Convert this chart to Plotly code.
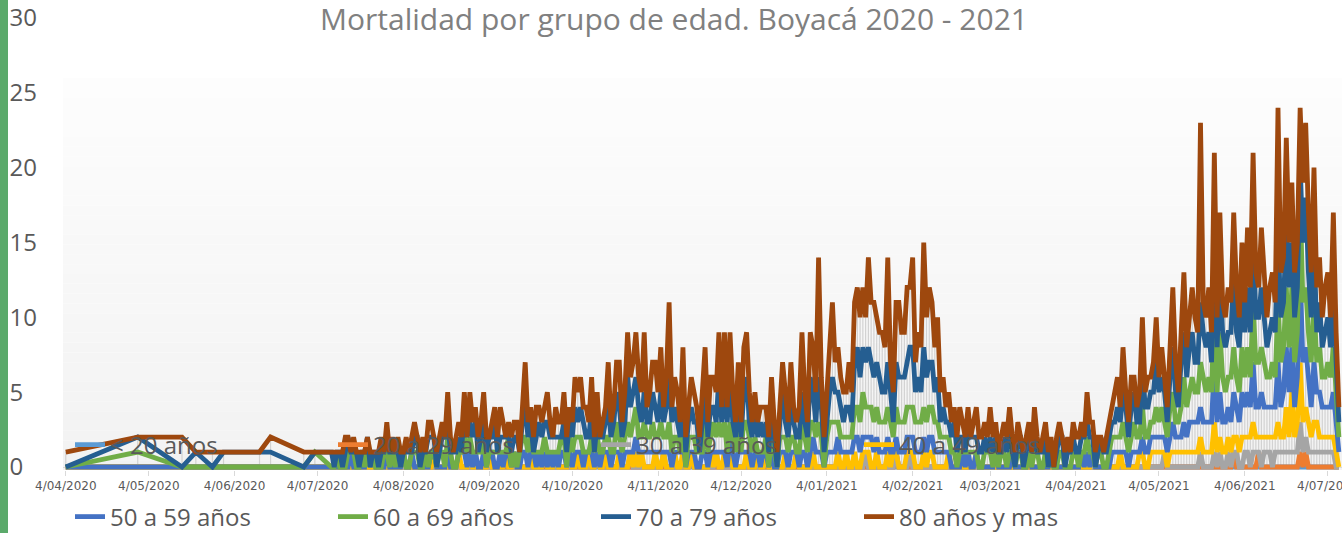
import numpy as np
import pandas as pd
import plotly.graph_objects as go

# ---------------- DATA ----------------
# dates with deaths before the daily series starts, then one value per day
early_dates = ["2020-04-04", "2020-04-30", "2020-05-16", "2020-05-21", "2020-05-27",
               "2020-05-31", "2020-06-13", "2020-06-17", "2020-06-29", "2020-07-03"]
daily_first, daily_last = "2020-07-09", "2021-07-08"
dates = list(pd.to_datetime(early_dates)) + list(pd.date_range(daily_first, daily_last, freq="D"))

title_text = "Mortalidad por grupo de edad. Boyacá 2020 - 2021"
series_names = ["< 20 años", "20 a 29 años", "30 a 39 años", "40 a 49 años",
                "50 a 59 años", "60 a 69 años", "70 a 79 años", "80 años y mas"]
y_tick_values = [0, 5, 10, 15, 20, 25, 30]
y_tick_labels = ["0\u2007", "5\u2007", "10", "15", "20", "25", "30"]

edad_80_mas = [
    1,0,2,0,1,0,0,1,1,0,
    0,1,0,0,1,1,0,0,1,0,1,0,0,0,1,0,0,1,1,0,1,0,1,
    0,1,1,0,1,0,1,1,0,1,1,0,1,1,0,1,1,1,0,2,1,0,1,1,1,1,0,2,1,1,1,
    1,2,1,0,1,1,1,2,1,0,1,1,1,1,0,1,3,1,1,1,2,1,1,1,2,1,0,2,1,1,
    2,1,1,1,2,2,2,1,2,1,2,1,2,0,1,1,3,1,1,2,3,1,2,3,2,2,3,2,2,4,1,
    2,2,3,2,3,1,2,5,1,2,2,1,3,1,1,2,2,1,1,2,3,1,2,2,2,3,1,4,1,3,
    2,1,2,1,3,3,2,1,1,1,1,2,1,1,2,1,1,1,2,2,1,3,1,1,2,4,2,1,3,3,2,
    8,2,1,2,3,5,2,3,2,2,1,3,2,4,4,4,4,3,6,4,5,3,3,4,3,7,2,2,4,5,3,
    3,5,4,6,2,3,3,7,4,5,4,3,4,2,2,1,2,1,1,1,2,1,1,1,0,1,2,1,
    1,1,1,2,1,1,0,1,1,1,1,1,1,1,0,1,1,1,0,2,1,0,1,1,1,1,0,1,1,0,1,
    1,0,1,1,1,1,0,2,1,1,1,1,0,0,1,1,1,2,2,1,3,1,1,2,1,1,2,3,1,2,
    1,2,3,1,2,1,1,2,4,2,1,2,4,2,2,3,3,2,12,2,2,3,2,5,2,4,2,2,3,2,4,
    3,2,3,2,4,3,5,3,2,4,3,2,3,3,2,8,3,3,6,3,4,3,3,4,4,5,4,3,5,3,
    3,2,3,3,2,5,2,1,
]
edad_70_79 = [
    0,1,0,1,0,1,1,1,0,0,
    1,0,0,1,0,1,1,0,0,1,0,0,1,1,0,0,1,0,1,0,1,1,0,
    1,0,0,0,1,1,0,1,1,0,1,0,2,1,1,0,0,1,2,1,0,1,1,1,0,2,1,1,1,2,0,
    1,1,1,1,1,2,0,1,1,1,0,1,1,2,0,1,2,1,1,0,1,2,1,1,2,1,1,1,1,0,
    1,1,1,1,2,1,2,2,1,1,2,0,1,1,1,1,2,1,2,2,2,1,1,3,2,2,2,2,1,2,1,
    1,2,2,1,2,1,2,3,2,2,1,1,2,1,1,2,1,2,0,2,2,1,2,1,1,3,1,2,2,3,
    1,1,2,1,2,3,1,1,2,1,2,1,1,1,2,1,0,1,3,1,1,2,1,1,1,2,1,1,3,2,1,
    3,2,1,1,2,3,2,2,2,1,2,2,1,3,4,3,3,3,4,3,3,3,3,2,2,3,2,1,3,3,3,
    3,3,4,4,2,3,2,4,3,3,3,2,3,1,2,1,1,1,2,1,1,1,0,2,1,1,1,1,
    1,1,0,1,1,1,1,0,1,1,2,0,0,1,1,0,1,1,1,1,0,1,1,1,0,0,0,1,1,1,0,
    1,1,1,0,1,1,1,1,1,1,0,0,1,1,1,1,1,1,2,1,2,2,1,2,2,1,1,3,2,2,
    2,2,3,2,2,2,1,2,3,2,1,3,3,2,3,3,2,2,4,3,3,3,2,5,3,4,3,3,3,3,5,
    3,3,4,3,4,3,5,3,3,4,3,2,3,3,3,5,3,3,4,4,3,3,3,2,4,6,4,3,4,2,
    3,2,3,3,2,4,2,1,
]
edad_60_69 = [
    0,1,0,0,0,0,0,0,0,1,
    0,0,1,0,0,0,1,0,1,0,0,1,0,0,0,0,0,0,0,1,0,0,1,
    0,1,0,0,0,0,0,1,1,0,0,1,0,0,0,0,1,1,0,1,1,0,0,0,0,1,1,1,1,0,1,
    1,1,0,0,0,1,1,0,1,0,1,0,0,0,1,1,1,1,1,0,1,0,1,1,1,0,1,0,1,1,
    1,0,1,1,1,1,1,1,0,0,1,1,1,1,0,1,1,1,0,2,1,1,1,2,1,2,2,1,1,2,1,
    1,2,1,1,2,1,1,2,1,1,1,0,1,0,1,1,1,1,1,0,2,1,1,2,1,2,1,2,1,1,
    1,1,2,0,2,2,1,1,1,0,1,0,1,0,1,1,0,1,1,1,1,1,1,0,1,2,1,1,2,1,1,
    2,1,0,1,2,2,2,1,1,1,1,1,1,2,2,2,3,2,2,2,2,2,2,2,2,2,2,1,2,2,2,
    2,2,2,2,2,2,2,2,2,2,2,2,2,1,1,1,1,1,1,0,1,0,1,0,1,1,0,0,
    0,1,1,1,0,0,0,1,1,0,1,0,0,1,1,0,0,0,0,1,1,0,0,1,0,0,0,0,1,1,0,
    0,0,1,1,0,0,1,1,1,0,0,1,1,0,0,1,1,1,1,1,2,1,1,1,2,1,1,2,1,1,
    1,1,2,1,2,1,1,2,2,1,1,2,3,2,2,3,2,2,3,3,2,3,2,4,2,4,3,2,2,3,3,
    2,2,3,2,3,2,4,3,3,3,3,2,2,3,2,4,3,3,4,3,4,3,3,5,4,4,3,3,4,2,
    3,2,2,3,2,3,2,1,
]
edad_50_59 = [
    0,0,0,0,0,0,0,0,0,0,
    0,0,0,0,0,0,0,1,0,0,0,0,0,1,0,1,0,0,0,0,1,0,0,
    0,0,0,0,0,0,1,0,0,0,0,0,0,1,0,0,0,0,0,1,0,0,0,0,1,1,0,0,0,1,0,
    0,1,0,0,1,0,0,1,0,0,1,0,0,0,0,1,1,0,0,1,0,1,0,0,0,1,0,0,0,1,
    1,0,0,0,1,0,1,0,1,0,1,0,0,0,1,0,1,0,1,1,0,0,1,1,0,1,1,1,0,1,1,
    1,1,0,1,1,0,1,1,0,0,1,1,1,0,1,0,1,0,0,1,1,0,0,1,0,1,1,0,0,1,
    1,0,1,1,1,0,1,0,1,0,0,1,0,0,1,0,0,1,1,0,0,1,1,0,0,1,1,0,1,1,1,
    1,1,0,1,1,1,1,1,1,1,0,1,1,1,2,1,1,1,1,2,1,1,1,1,1,1,1,0,1,1,1,
    1,1,1,1,1,1,1,1,1,1,1,1,1,1,1,1,0,0,0,0,0,1,0,1,0,0,0,0,
    0,0,0,0,0,1,0,0,0,0,0,1,0,0,0,0,0,1,0,0,0,0,0,0,0,1,0,0,0,0,0,
    0,0,0,0,0,1,0,1,0,0,0,0,0,0,0,0,1,1,1,0,1,1,0,1,1,1,0,1,1,1,
    1,1,1,1,1,1,1,1,2,1,1,1,2,1,2,2,2,2,2,2,2,2,2,4,2,3,2,2,2,2,3,
    2,2,3,2,3,2,4,2,2,3,2,2,2,2,2,4,2,3,4,3,3,2,3,6,4,4,3,2,4,2,
    3,2,2,2,2,3,2,1,
]
edad_40_49 = [
    0,0,0,0,0,0,0,0,0,0,
    0,0,0,0,0,0,0,0,0,0,0,0,0,0,0,0,0,0,0,0,0,0,0,
    0,0,0,1,0,0,0,0,0,0,0,0,0,0,1,0,0,0,0,0,0,0,0,1,0,0,0,1,0,0,0,
    0,0,0,1,0,0,0,0,0,0,0,0,1,0,0,0,0,0,1,0,0,0,0,0,0,0,0,1,0,0,
    0,0,1,0,0,0,0,0,0,1,0,0,0,0,0,1,0,0,0,0,1,0,0,0,0,0,1,0,1,0,0,
    0,0,1,0,0,0,0,0,0,1,0,0,1,0,0,0,0,0,0,0,0,0,1,0,0,0,0,1,0,1,
    0,0,0,0,0,1,0,0,0,1,0,0,0,0,0,0,0,0,0,1,0,0,0,0,0,0,0,0,0,1,0,
    0,0,0,0,0,0,0,1,0,0,1,0,0,1,0,0,1,0,1,0,0,1,0,0,0,1,0,1,0,0,0,
    0,1,0,1,0,0,0,1,0,1,1,0,0,0,0,0,1,0,0,0,0,0,0,0,0,0,1,0,
    0,0,0,0,0,0,0,0,0,0,0,0,0,0,0,0,0,0,0,0,0,0,0,0,0,0,0,0,0,0,0,
    0,0,0,0,0,0,0,0,0,1,0,0,0,0,0,0,0,0,0,1,0,0,0,0,0,0,1,1,0,0,
    1,1,1,1,1,0,0,1,1,1,1,1,1,1,1,1,1,1,1,1,1,1,1,2,1,1,1,1,1,1,1,
    1,1,2,1,1,2,2,1,1,2,1,1,1,2,1,2,1,1,3,1,4,1,2,4,2,2,2,1,2,2,
    1,1,1,1,1,1,1,0,
]
edad_30_39 = [
    0,0,0,0,0,0,0,0,0,0,
    0,0,0,0,0,0,0,0,0,0,0,0,0,0,0,0,0,0,0,0,0,0,0,
    0,0,0,0,0,0,0,0,0,0,0,0,0,0,0,0,0,0,0,0,0,0,0,0,0,0,0,0,0,0,0,
    0,0,0,0,0,0,0,0,0,1,0,0,0,0,0,0,0,0,0,0,0,0,0,1,0,0,0,0,0,0,
    0,0,0,0,0,1,0,0,0,0,0,0,0,0,0,0,0,0,0,0,0,0,0,0,1,0,0,0,0,0,0,
    0,0,0,0,0,1,0,0,0,0,0,0,0,0,0,0,0,0,0,0,0,0,0,0,1,0,0,0,0,0,
    0,0,0,0,0,0,0,0,0,0,0,0,1,0,0,0,0,0,0,0,0,0,0,1,0,0,0,0,0,0,0,
    0,0,0,0,0,0,0,0,0,0,0,0,0,0,0,0,0,1,0,0,0,0,0,0,0,0,0,0,0,0,0,
    0,0,1,0,0,0,0,0,0,0,0,0,0,0,0,0,0,0,0,0,0,0,0,0,0,0,0,0,
    0,0,0,0,0,0,0,0,0,0,0,0,0,0,0,0,0,0,0,0,0,0,0,0,0,0,0,0,0,0,0,
    0,0,0,0,0,0,0,0,0,0,0,0,0,0,0,0,0,0,0,0,0,0,0,0,0,0,0,0,0,0,
    0,0,0,0,0,1,0,0,0,0,0,0,0,0,0,0,0,0,1,0,0,0,0,1,0,1,0,0,1,0,0,
    1,0,0,1,1,0,1,1,0,0,1,1,1,0,1,1,1,1,1,1,1,1,1,2,1,1,1,1,1,1,
    1,1,1,1,1,1,0,0,
]
edad_20_29 = [
    0,0,0,0,0,0,0,0,0,0,
    0,0,0,0,0,0,0,0,0,0,0,0,0,0,0,0,0,0,0,0,0,0,0,
    0,0,0,0,0,0,0,0,0,0,0,0,0,0,0,0,0,0,0,0,0,0,0,0,0,0,0,0,0,0,0,
    0,0,0,0,0,0,0,0,0,0,0,0,0,0,0,0,0,0,0,0,0,0,0,0,0,0,0,0,0,0,
    0,0,0,0,0,0,0,0,0,0,0,0,1,0,0,0,0,0,0,0,0,0,0,0,0,0,0,0,0,0,0,
    0,0,0,0,0,0,0,0,0,0,0,0,0,0,0,1,0,0,0,0,0,0,0,0,0,0,0,0,0,0,
    0,0,0,0,0,0,0,0,0,0,0,0,0,0,0,0,0,0,0,0,0,0,0,0,0,0,0,0,0,0,0,
    0,0,0,0,0,0,0,0,0,0,0,0,0,0,0,0,0,0,0,0,0,0,0,0,0,0,0,0,1,0,0,
    0,0,0,0,0,0,0,0,0,0,0,0,0,0,0,0,0,0,0,0,0,0,0,0,0,0,0,0,
    0,0,0,0,0,0,0,0,0,0,0,0,0,0,0,0,0,0,0,0,0,0,0,0,0,0,0,0,0,0,0,
    0,0,0,0,0,0,0,0,0,0,0,0,0,0,0,0,0,0,0,0,0,0,0,0,0,0,0,0,0,0,
    0,0,0,0,0,0,0,0,0,0,0,0,0,0,0,0,0,0,0,0,0,0,0,0,0,0,0,0,0,0,1,
    0,0,0,0,0,0,0,0,1,0,0,0,0,0,0,0,0,0,0,0,0,0,0,1,0,1,0,0,0,0,
    0,0,0,0,0,0,0,0,
]
edad_menor20 = [
    0,0,0,0,0,0,0,0,0,0,
    0,0,0,0,0,0,0,0,0,0,0,0,0,0,0,0,0,0,0,0,0,0,0,
    0,0,0,0,0,0,0,0,0,0,0,0,0,0,0,0,0,0,0,0,0,0,0,0,0,0,0,0,0,0,0,
    0,0,0,0,0,0,0,0,0,0,0,0,0,0,0,0,0,0,0,0,0,0,0,0,0,0,0,0,0,0,
    0,0,0,0,0,0,0,0,0,0,0,0,0,0,0,0,0,0,0,0,0,0,0,0,0,0,0,0,0,0,0,
    0,0,0,0,0,0,0,0,0,0,0,0,0,0,0,0,0,0,0,0,0,0,0,0,0,0,0,0,0,0,
    0,0,0,0,0,0,0,0,0,0,0,0,0,0,0,0,0,0,0,0,0,0,0,0,0,0,0,0,0,0,0,
    0,0,0,0,0,0,0,0,0,0,0,0,0,0,0,0,0,0,0,0,0,0,0,0,0,0,0,0,0,0,0,
    0,0,0,0,0,0,0,0,0,0,0,0,0,0,0,0,0,0,0,0,0,0,0,0,0,0,0,0,
    0,0,0,0,0,0,0,0,0,0,0,0,0,0,0,0,0,0,0,0,0,0,0,0,0,0,0,0,0,0,0,
    0,0,0,0,0,0,0,0,0,0,0,0,0,0,0,0,0,0,0,0,0,0,0,0,0,0,0,0,0,0,
    0,0,0,0,0,0,0,0,0,0,0,0,0,0,0,0,0,0,0,0,0,0,0,0,0,0,0,0,0,0,0,
    0,0,0,0,0,0,0,0,0,0,0,0,0,0,0,0,0,0,0,0,0,0,0,0,0,0,0,0,0,0,
    0,0,0,0,0,0,0,0,
]

# ---------------- STYLE ----------------
W, H = 1342, 533
M_L, M_R, M_T, M_B = 63, 0, 18, 63
colors = ["#5B9BD5", "#ED7D31", "#A5A5A5", "#FFC000",
          "#4472C4", "#70AD47", "#255E91", "#9E480E"]
legend_ids = ["legend"] * 4 + ["legend2"] * 4
values = [edad_menor20, edad_20_29, edad_30_39, edad_40_49,
          edad_50_59, edad_60_69, edad_70_79, edad_80_mas]
for nm, v in zip(series_names, values):
    assert len(v) == len(dates), (nm, len(v), len(dates))

fig = go.Figure()

# high-low lines (Excel style) from lowest to highest stacked series
stack = np.array(values)
total = stack.sum(axis=0)
low = stack[0]
hl_x, hl_y = [], []
for d, lo, hi in zip(dates, low, total):
    hl_x += [d, d, None]
    hl_y += [int(lo), int(hi), None]
fig.add_trace(go.Scatter(x=hl_x, y=hl_y, mode="lines",
                         line=dict(color="#d2d2d2", width=1.2),
                         showlegend=False, hoverinfo="skip"))

for nm, v, c, lg in zip(series_names, values, colors, legend_ids):
    fig.add_trace(go.Scatter(x=dates, y=v, name=nm, mode="lines",
                             stackgroup="edad", fill="none",
                             line=dict(color=c, width=4.8),
                             legend=lg))

# plot-area gradient (white top -> light grey bottom)
shapes = []
n_bands = 40
y_top = 0.867
for i in range(n_bands):
    f = i / (n_bands - 1)
    g = int(round(242 + (253 - 242) * f))
    shapes.append(dict(type="rect", xref="paper", yref="paper",
                       x0=0, x1=1, y0=y_top * i / n_bands, y1=y_top * (i + 1) / n_bands,
                       fillcolor=f"rgb({g},{g},{g})", line=dict(width=0), layer="below"))
# green strip at left edge
plot_w = W - M_L - M_R
plot_h = H - M_T - M_B
shapes.append(dict(type="rect", xref="paper", yref="paper",
                   x0=(0 - M_L) / plot_w, x1=(8 - M_L) / plot_w,
                   y0=-M_B / plot_h, y1=(H - M_B) / plot_h,
                   fillcolor="#5BAA6B", line=dict(width=0), layer="above"))

legend_common = dict(orientation="h", xref="container", yref="container",
                     xanchor="left", yanchor="middle",
                     entrywidth=218, entrywidthmode="pixels",
                     font=dict(family="Open Sans", size=24, color="#595959"),
                     bgcolor="rgba(0,0,0,0)", traceorder="normal")

fig.update_layout(
    width=W, height=H,
    margin=dict(l=M_L, r=M_R, t=M_T, b=M_B, autoexpand=False),
    paper_bgcolor="white", plot_bgcolor="white",
    title=dict(text=title_text, xref="container", x=674 / W, xanchor="center",
               yref="container", y=(H - 19) / H, yanchor="middle",
               font=dict(family="Open Sans", size=30, color="#808080")),
    xaxis=dict(type="date", range=["2020-04-03", "2021-07-09 03:00"],
               tick0="2020-04-04", dtick="M1", tickformat="%-d/%m/%Y",
               ticks="outside", ticklen=5, tickcolor="#d9d9d9", tickwidth=1,
               showgrid=False, showline=False, zeroline=False,
               ticklabeloverflow="allow",
               tickfont=dict(family="DejaVu Sans", size=12, color="#595959")),
    yaxis=dict(range=[-0.2, 30], tickvals=y_tick_values, ticktext=y_tick_labels,
               showgrid=False, showline=False, ticks="",
               zeroline=True, zerolinecolor="#d9d9d9", zerolinewidth=1,
               ticklabelstandoff=25,
               tickfont=dict(family="Open Sans", size=24, color="#595959")),
    legend=dict(legend_common, x=70 / W, y=(H - 445) / H),
    legend2=dict(legend_common, x=70 / W, y=(H - 517) / H),
    shapes=shapes,
    showlegend=True,
    hovermode=False,
)

fig.write_html("out.html",
               config={"displayModeBar": False},
               post_script="document.body.style.margin='0';document.body.style.overflow='hidden';")
